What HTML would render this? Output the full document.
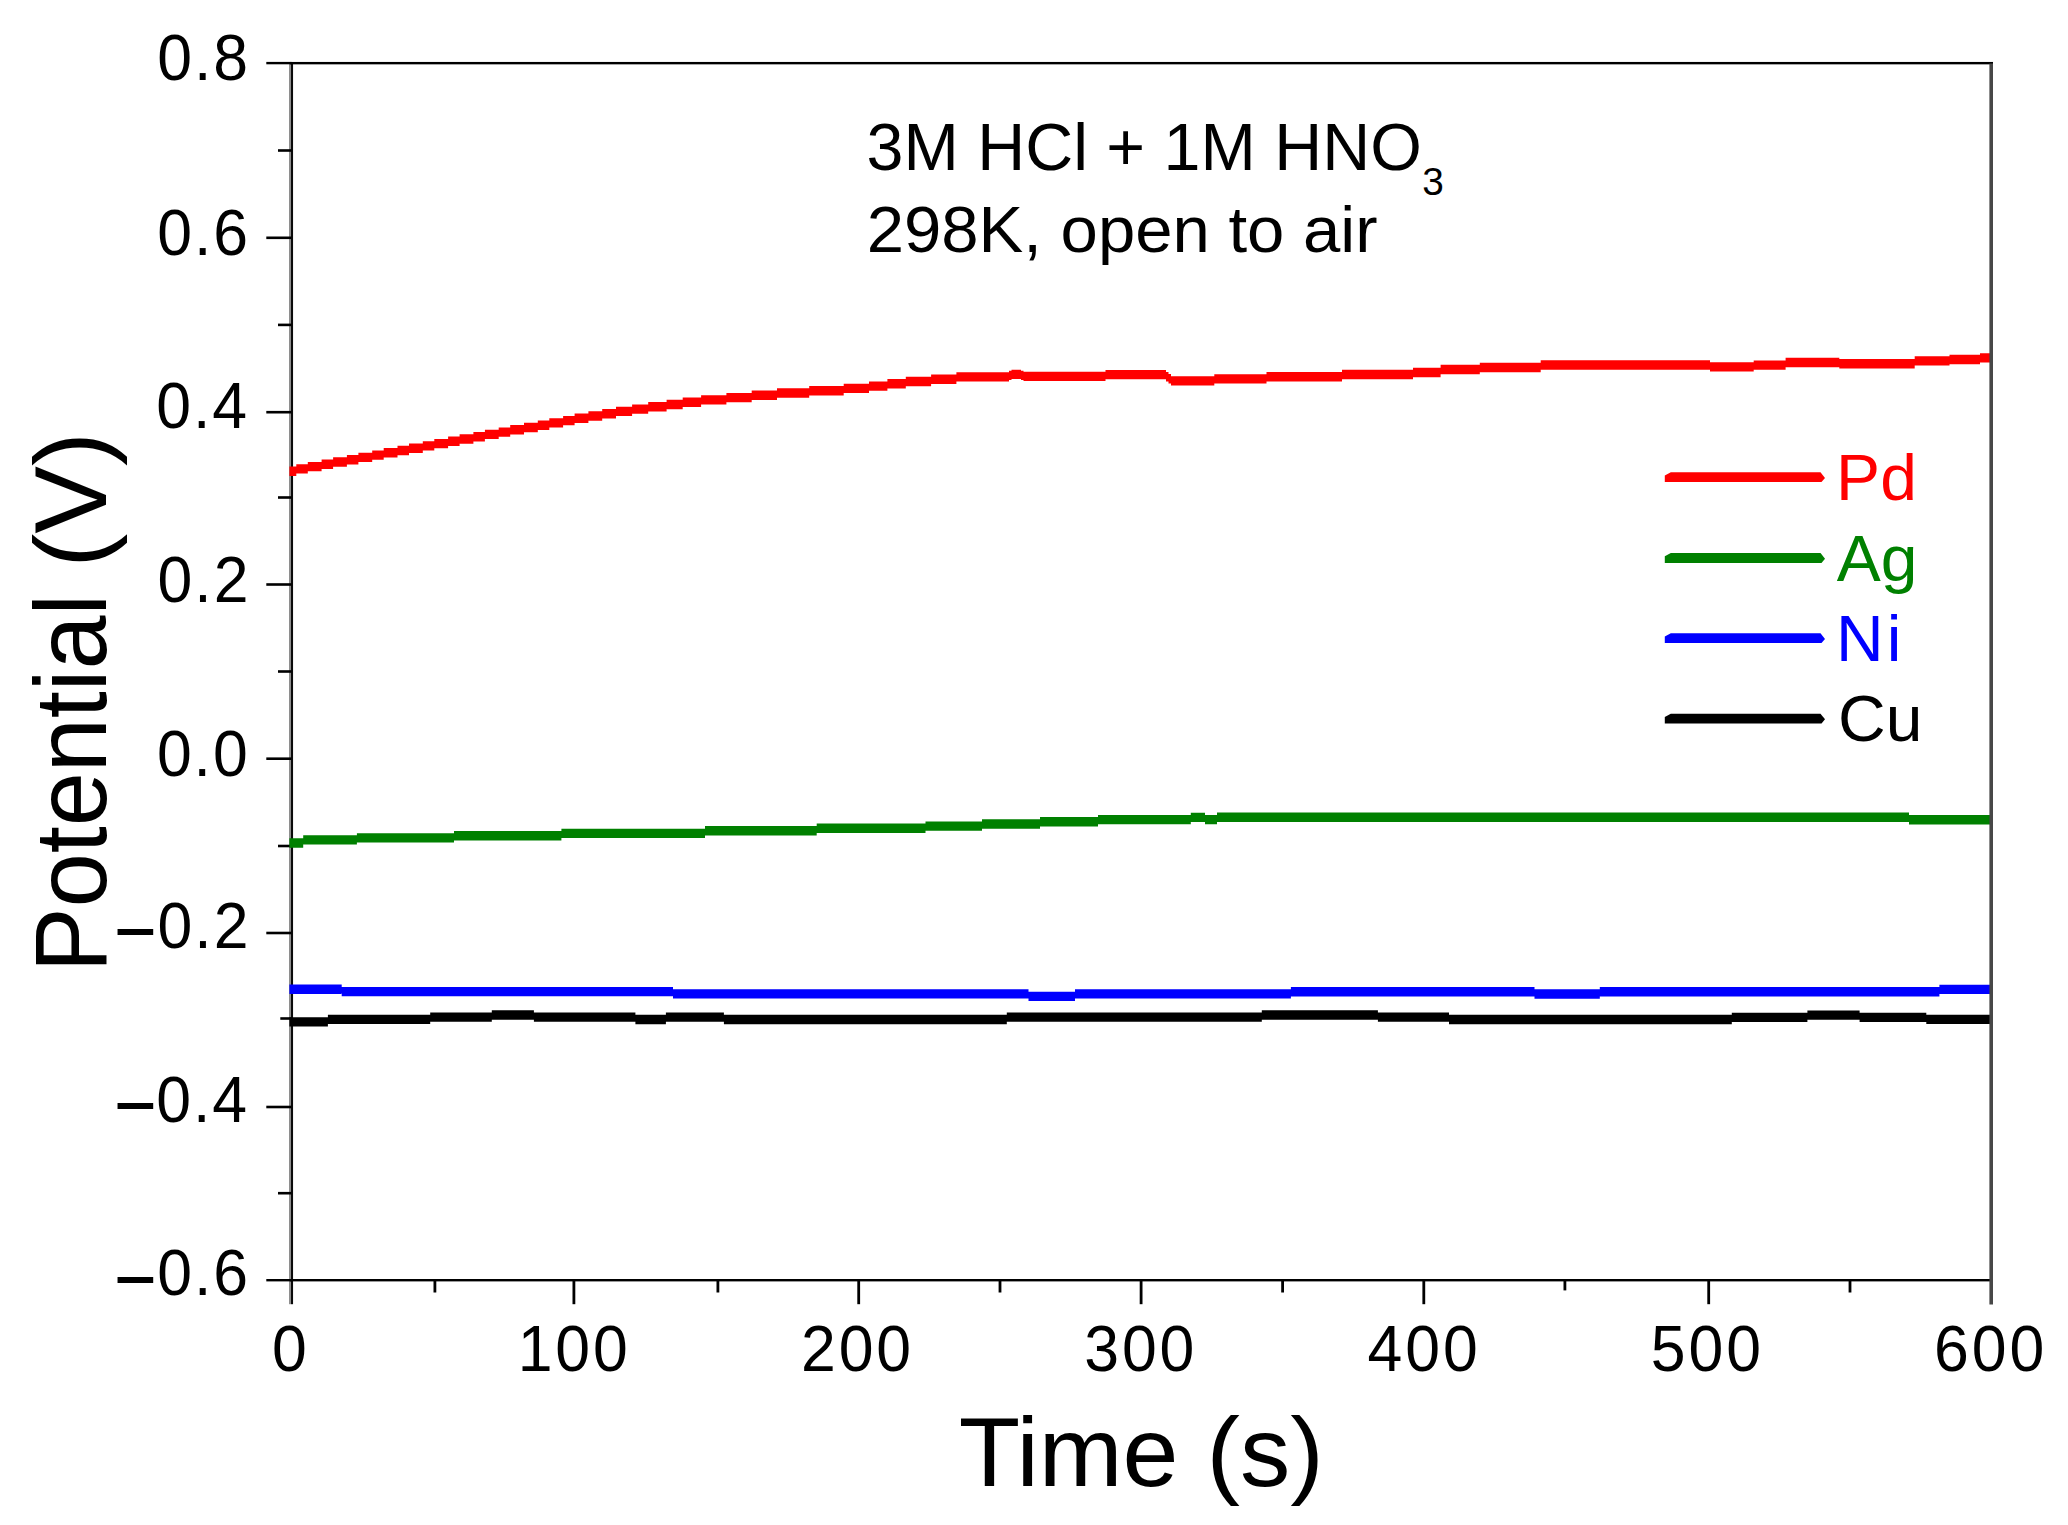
<!DOCTYPE html>
<html lang="en"><head><meta charset="utf-8"><title>Open circuit potential vs time</title>
<style>html,body{margin:0;padding:0;background:#fff;}body{width:2068px;height:1525px;overflow:hidden;}svg{display:block;}text{font-family:"Liberation Sans", sans-serif;}</style></head><body>
<svg width="2068" height="1525" viewBox="0 0 2068 1525">
<rect x="0" y="0" width="2068" height="1525" fill="#fff"/>
<rect x="289" y="62.25" width="2.1" height="1241.95" fill="#8e8e8e"/>
<rect x="291" y="62.25" width="2.05" height="1241.95" fill="#0a0a0a"/>
<rect x="266.30" y="61.90" width="25.20" height="2.40" fill="#000"/>
<rect x="278.00" y="149.20" width="13.50" height="2.60" fill="#000"/>
<rect x="266.30" y="236.50" width="25.20" height="2.60" fill="#000"/>
<rect x="278.00" y="323.60" width="13.50" height="2.60" fill="#000"/>
<rect x="266.30" y="410.90" width="25.20" height="2.60" fill="#000"/>
<rect x="278.00" y="496.20" width="13.50" height="2.60" fill="#000"/>
<rect x="266.30" y="583.20" width="25.20" height="2.60" fill="#000"/>
<rect x="278.00" y="670.20" width="13.50" height="2.60" fill="#000"/>
<rect x="266.30" y="757.40" width="25.20" height="2.60" fill="#000"/>
<rect x="278.00" y="844.70" width="13.50" height="2.60" fill="#000"/>
<rect x="266.30" y="931.70" width="25.20" height="2.60" fill="#000"/>
<rect x="280.30" y="1017.20" width="11.20" height="2.60" fill="#000"/>
<rect x="266.30" y="1105.70" width="25.20" height="2.60" fill="#000"/>
<rect x="278.00" y="1191.90" width="13.50" height="2.60" fill="#000"/>
<rect x="266.30" y="1279.00" width="25.20" height="2.40" fill="#000"/>
<rect x="433.50" y="1280.20" width="2.80" height="12.30" fill="#000"/>
<rect x="572.50" y="1280.20" width="2.80" height="24.00" fill="#000"/>
<rect x="716.50" y="1280.20" width="2.80" height="12.30" fill="#000"/>
<rect x="857.30" y="1280.20" width="2.80" height="24.00" fill="#000"/>
<rect x="998.60" y="1280.20" width="2.80" height="12.30" fill="#000"/>
<rect x="1139.70" y="1280.20" width="2.80" height="24.00" fill="#000"/>
<rect x="1281.20" y="1280.20" width="2.80" height="12.30" fill="#000"/>
<rect x="1422.40" y="1280.20" width="2.80" height="24.00" fill="#000"/>
<rect x="1563.50" y="1280.20" width="2.80" height="10.20" fill="#000"/>
<rect x="1707.30" y="1280.20" width="2.80" height="24.00" fill="#000"/>
<rect x="1848.60" y="1280.20" width="2.80" height="12.30" fill="#000"/>
<path d="M289.4 1017.25H327.9V1026.55H289.4ZM327.9 1014.65H430.2V1023.95H327.9ZM430.2 1012.45H491.8V1021.75H430.2ZM491.8 1010.35H533.9V1019.65H491.8ZM533.9 1012.45H635.4V1021.75H533.9ZM635.4 1014.85H665.9V1024.15H635.4ZM665.9 1012.45H723.9V1021.75H665.9ZM723.9 1014.85H1006.8V1024.15H723.9ZM1006.8 1012.45H1261.8V1021.75H1006.8ZM1261.8 1010.35H1377.9V1019.65H1261.8ZM1377.9 1012.45H1449.0V1021.75H1377.9ZM1449.0 1014.85H1731.8V1024.15H1449.0ZM1731.8 1012.65H1807.4V1021.95H1731.8ZM1807.4 1010.45H1859.6V1019.75H1807.4ZM1859.6 1012.65H1926.3V1021.95H1859.6ZM1926.3 1014.65H1990.3V1023.95H1926.3Z" fill="#000000"/>
<path d="M289.4 984.50H341.7V993.90H289.4ZM341.7 986.90H673.0V996.30H341.7ZM673.0 989.20H1028.5V998.60H673.0ZM1028.5 991.70H1075.0V1001.10H1028.5ZM1075.0 989.20H1290.9V998.60H1075.0ZM1290.9 987.10H1534.5V996.50H1290.9ZM1534.5 989.30H1599.8V998.70H1534.5ZM1599.8 987.00H1939.4V996.40H1599.8ZM1939.4 984.70H1990.3V994.10H1939.4Z" fill="#0000ff"/>
<path d="M289.4 838.30H303.2V847.70H289.4ZM303.2 835.20H356.9V844.60H303.2ZM356.9 833.20H454.0V842.60H356.9ZM454.0 831.00H561.4V840.40H454.0ZM561.4 828.70H705.0V838.10H561.4ZM705.0 826.00H816.7V835.40H705.0ZM816.7 823.60H925.5V833.00H816.7ZM925.5 821.40H982.0V830.80H925.5ZM982.0 819.30H1040.0V828.70H982.0ZM1040.0 817.10H1098.0V826.50H1040.0ZM1098.0 814.90H1190.8V824.30H1098.0ZM1190.8 812.70H1205.0V822.10H1190.8ZM1205.0 814.90H1217.0V824.30H1205.0ZM1217.0 812.60H1909.0V822.00H1217.0ZM1909.0 815.00H1990.3V824.40H1909.0Z" fill="#008000"/>
<path d="M289.4 466.50H296.3V475.90H289.4ZM296.3 464.20H307.8V473.60H296.3ZM307.8 461.90H321.6V471.30H307.8ZM321.6 459.60H333.1V469.00H321.6ZM333.1 457.30H346.9V466.70H333.1ZM346.9 455.00H358.4V464.40H346.9ZM358.4 452.70H372.2V462.10H358.4ZM372.2 450.40H383.7V459.80H372.2ZM383.7 448.10H397.5V457.50H383.7ZM397.5 445.80H409.0V455.20H397.5ZM409.0 443.50H422.8V452.90H409.0ZM422.8 441.20H434.3V450.60H422.8ZM434.3 438.90H448.1V448.30H434.3ZM448.1 436.60H459.6V446.00H448.1ZM459.6 434.30H473.4V443.70H459.6ZM473.4 432.00H484.9V441.40H473.4ZM484.9 429.70H498.7V439.10H484.9ZM498.7 427.40H510.2V436.80H498.7ZM510.2 425.10H524.0V434.50H510.2ZM524.0 422.80H537.8V432.20H524.0ZM537.8 420.50H549.3V429.90H537.8ZM549.3 418.20H563.1V427.60H549.3ZM563.1 415.90H574.6V425.30H563.1ZM574.6 413.60H588.4V423.00H574.6ZM588.4 411.30H602.2V420.70H588.4ZM602.2 409.00H616.0V418.40H602.2ZM616.0 406.70H632.1V416.10H616.0ZM632.1 404.40H648.2V413.80H632.1ZM648.2 402.10H666.6V411.50H648.2ZM666.6 399.80H682.7V409.20H666.6ZM682.7 397.50H701.1V406.90H682.7ZM701.1 395.20H726.4V404.60H701.1ZM726.4 392.90H751.7V402.30H726.4ZM751.7 390.60H777.0V400.00H751.7ZM777.0 388.30H809.2V397.70H777.0ZM809.2 386.00H843.7V395.40H809.2ZM843.7 383.70H869.0V393.10H843.7ZM869.0 381.40H887.4V390.80H869.0ZM887.4 379.10H905.8V388.50H887.4ZM905.8 376.80H931.1V386.20H905.8ZM931.1 374.50H956.4V383.90H931.1ZM956.4 372.20H1009.0V381.60H956.4ZM1009.0 370.70H1011.5V380.10H1009.0ZM1011.5 369.70H1021.0V379.10H1011.5ZM1021.0 370.70H1023.5V380.10H1021.0ZM1023.5 371.70H1105.5V381.10H1023.5ZM1105.5 369.90H1166.0V379.30H1105.5ZM1166.0 372.00H1168.5V381.40H1166.0ZM1168.5 374.10H1171.0V383.50H1168.5ZM1171.0 376.20H1214.3V385.60H1171.0ZM1214.3 374.20H1266.5V383.60H1214.3ZM1266.5 372.00H1342.0V381.40H1266.5ZM1342.0 369.80H1413.0V379.20H1342.0ZM1413.0 367.80H1440.6V377.20H1413.0ZM1440.6 364.80H1479.8V374.20H1440.6ZM1479.8 362.80H1540.7V372.20H1479.8ZM1540.7 360.30H1710.0V369.70H1540.7ZM1710.0 362.20H1753.7V371.60H1710.0ZM1753.7 360.40H1785.6V369.80H1753.7ZM1785.6 357.80H1839.3V367.20H1785.6ZM1839.3 359.10H1914.7V368.50H1839.3ZM1914.7 356.20H1949.5V365.60H1914.7ZM1949.5 354.80H1980.0V364.20H1949.5ZM1980.0 353.20H1990.3V362.60H1980.0Z" fill="#ff0000"/>
<rect x="290.10" y="61.95" width="1702.90" height="2.40" fill="#000"/>
<rect x="290.10" y="1279.00" width="1702.90" height="2.40" fill="#000"/>
<rect x="1989.40" y="63.55" width="3.60" height="1240.95" fill="#474747"/>
<text transform="translate(157.16,80.05) scale(0.9580,1)" font-size="65.30" letter-spacing="2.035">0.8</text>
<text transform="translate(157.19,255.01) scale(0.9580,1)" font-size="65.30" letter-spacing="2.035">0.6</text>
<text transform="translate(156.27,427.58) scale(0.9580,1)" font-size="65.30" letter-spacing="2.035">0.4</text>
<text transform="translate(157.58,601.64) scale(0.9580,1)" font-size="65.30" letter-spacing="2.035">0.2</text>
<text transform="translate(156.88,776.41) scale(0.9580,1)" font-size="65.30" letter-spacing="2.035">0.0</text>
<text transform="translate(157.58,948.37) scale(0.9580,1)" font-size="65.30" letter-spacing="2.035">0.2</text>
<text transform="translate(114.45,950.47) scale(1.2930,1)" font-size="55.00" text-anchor="start" font-weight="bold">−</text>
<text transform="translate(156.27,1122.04) scale(0.9580,1)" font-size="65.30" letter-spacing="2.035">0.4</text>
<text transform="translate(114.45,1124.34) scale(1.2930,1)" font-size="55.00" text-anchor="start" font-weight="bold">−</text>
<text transform="translate(157.19,1295.20) scale(0.9580,1)" font-size="65.30" letter-spacing="2.035">0.6</text>
<text transform="translate(114.45,1298.20) scale(1.2930,1)" font-size="55.00" text-anchor="start" font-weight="bold">−</text>
<text transform="translate(272.00,1370.90) scale(0.9580,1)" font-size="65.30" letter-spacing="3.027">0</text>
<text transform="translate(517.65,1370.90) scale(0.9580,1)" font-size="65.30" letter-spacing="3.027">100</text>
<text transform="translate(800.94,1370.90) scale(0.9580,1)" font-size="65.30" letter-spacing="3.027">200</text>
<text transform="translate(1084.22,1370.90) scale(0.9580,1)" font-size="65.30" letter-spacing="3.027">300</text>
<text transform="translate(1367.50,1370.90) scale(0.9580,1)" font-size="65.30" letter-spacing="3.027">400</text>
<text transform="translate(1650.79,1370.90) scale(0.9580,1)" font-size="65.30" letter-spacing="3.027">500</text>
<text transform="translate(1934.07,1370.90) scale(0.9580,1)" font-size="65.30" letter-spacing="3.027">600</text>
<text transform="translate(866.60,169.80) scale(1.0062,1)" font-size="66.00" text-anchor="start">3M HCl + 1M HNO</text>
<text transform="translate(1422.30,194.70) scale(1.0000,1)" font-size="38.80" text-anchor="start">3</text>
<text transform="translate(866.70,252.20) scale(1.0320,1)" font-size="65.00" text-anchor="start">298K, open to air</text>
<polygon points="1670.8,472.3 1820.5,472.3 1825.0,477.9 1821.5,482.1 1664.8,482.1 1664.8,475.5" fill="#ff0000"/>
<text transform="translate(1836.00,500.40) scale(1.0076,1)" font-size="65.5" letter-spacing="0.30" fill="#ff0000">Pd</text>
<polygon points="1670.8,553.1 1820.5,553.1 1825.0,558.7 1821.5,562.9 1664.8,562.9 1664.8,556.3" fill="#008000"/>
<text transform="translate(1836.80,580.90) scale(1.0076,1)" font-size="65.5" letter-spacing="0.00" fill="#008000">Ag</text>
<polygon points="1670.8,633.3 1820.5,633.3 1825.0,638.9 1821.5,643.1 1664.8,643.1 1664.8,636.5" fill="#0000ff"/>
<text transform="translate(1836.00,660.90) scale(1.0076,1)" font-size="65.5" letter-spacing="3.00" fill="#0000ff">Ni</text>
<polygon points="1670.8,713.7 1820.5,713.7 1825.0,719.3 1821.5,723.5 1664.8,723.5 1664.8,716.9" fill="#000000"/>
<text transform="translate(1838.00,740.90) scale(1.0076,1)" font-size="65.5" letter-spacing="0.00" fill="#000000">Cu</text>
<text transform="translate(1141.20,1485.60) scale(1.0317,1)" font-size="97.50" text-anchor="middle">Time (s)</text>
<text transform="translate(106.2,972.2) rotate(-90) scale(0.992,1.031)" font-size="98" text-anchor="start">Potential</text>
<text transform="translate(106.2,432.0) rotate(-90) scale(1.038,1.031)" font-size="98" text-anchor="end">(V)</text>
</svg></body></html>
